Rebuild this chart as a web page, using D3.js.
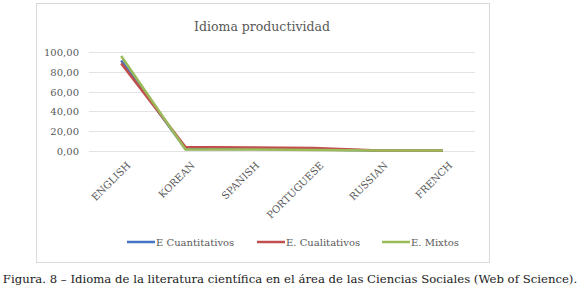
<!DOCTYPE html>
<html>
<head>
<meta charset="utf-8">
<script src="https://cdn.jsdelivr.net/npm/d3@7"></script>
<style>
  body { margin: 0; background: #fff; }
  text { font-family: "DejaVu Serif", "Liberation Serif", serif; }
</style>
</head>
<body>
<div id="chart"></div>
<script>
// datos
const idiomas = ["ENGLISH", "KOREAN", "SPANISH", "PORTUGUESE", "RUSSIAN", "FRENCH"];
const cuantitativos = [91.5, 2.0, 2.0, 1.5, 0.5, 0.5];
const cualitativos = [88.5, 4.0, 3.5, 3.0, 0.5, 0.5];
const mixtos = [96.0, 1.5, 1.5, 1.0, 0.5, 0.5];
const yTicks = [0, 20, 40, 60, 80, 100];
const nombres = ["E Cuantitativos", "E. Cualitativos", "E. Mixtos"];

const series = [
    { name: nombres[0], values: cuantitativos, color: "#4472C4" },
    { name: nombres[1], values: cualitativos, color: "#C0504D" },
    { name: nombres[2], values: mixtos, color: "#9BBB59" }
];

const W = 580, H = 303;
const svg = d3.select("#chart").append("svg")
    .attr("width", W).attr("height", H);

// marco del gráfico
svg.append("rect")
    .attr("x", 36.5).attr("y", 3.5)
    .attr("width", 453).attr("height", 259)
    .attr("fill", "#fff")
    .attr("stroke", "#d9d9d9");

svg.append("text")
    .attr("x", 262).attr("y", 31)
    .attr("text-anchor", "middle")
    .attr("font-size", 12.5)
    .attr("fill", "#595959")
    .text("Idioma productividad");

const x = d3.scaleBand().domain(idiomas).range([89, 475]);
const y = d3.scaleLinear().domain([0, 100]).range([151, 52]);

// rejilla
svg.append("g")
    .selectAll("line")
    .data(yTicks)
    .join("line")
    .attr("x1", 89).attr("x2", 475)
    .attr("y1", d => Math.round(y(d)) + 0.5)
    .attr("y2", d => Math.round(y(d)) + 0.5)
    .attr("stroke", "#e3e3e3");

const fmt = d => d.toFixed(2).replace(".", ",");

svg.append("g")
    .selectAll("text")
    .data(yTicks)
    .join("text")
    .attr("x", 79)
    .attr("y", d => y(d) + 4)
    .attr("text-anchor", "end")
    .attr("font-size", 10)
    .attr("fill", "#595959")
    .text(fmt);

// etiquetas del eje x, rotadas
svg.append("g")
    .selectAll("text")
    .data(idiomas)
    .join("text")
    .attr("transform", d => `translate(${x(d) + x.bandwidth() / 2 + 10},${166}) rotate(-45)`)
    .attr("text-anchor", "end")
    .attr("font-size", 10)
    .attr("fill", "#595959")
    .text(d => d);

const line = d3.line()
    .x((d, i) => x(idiomas[i]) + x.bandwidth() / 2)
    .y(d => y(d));

svg.append("g")
    .selectAll("path")
    .data(series)
    .join("path")
    .attr("d", d => line(d.values))
    .attr("fill", "none")
    .attr("stroke", d => d.color)
    .attr("stroke-width", 2.5)
    .attr("stroke-linejoin", "round");

// leyenda
const legX = [127, 257, 382];
const leg = svg.append("g")
    .selectAll("g")
    .data(series)
    .join("g")
    .attr("transform", (d, i) => `translate(${legX[i]},242)`);

leg.append("line")
    .attr("x1", 0).attr("x2", 28)
    .attr("stroke", d => d.color)
    .attr("stroke-width", 2.5);

leg.append("text")
    .attr("x", 29).attr("y", 4)
    .attr("font-size", 10)
    .attr("fill", "#595959")
    .text(d => d.name);

svg.append("text")
    .attr("x", 290).attr("y", 283)
    .attr("text-anchor", "middle")
    .attr("font-size", 11.7)
    .attr("fill", "#222")
    .text("Figura. 8 – Idioma de la literatura científica en el área de las Ciencias Sociales (Web of Science).");
</script>
</body>
</html>
